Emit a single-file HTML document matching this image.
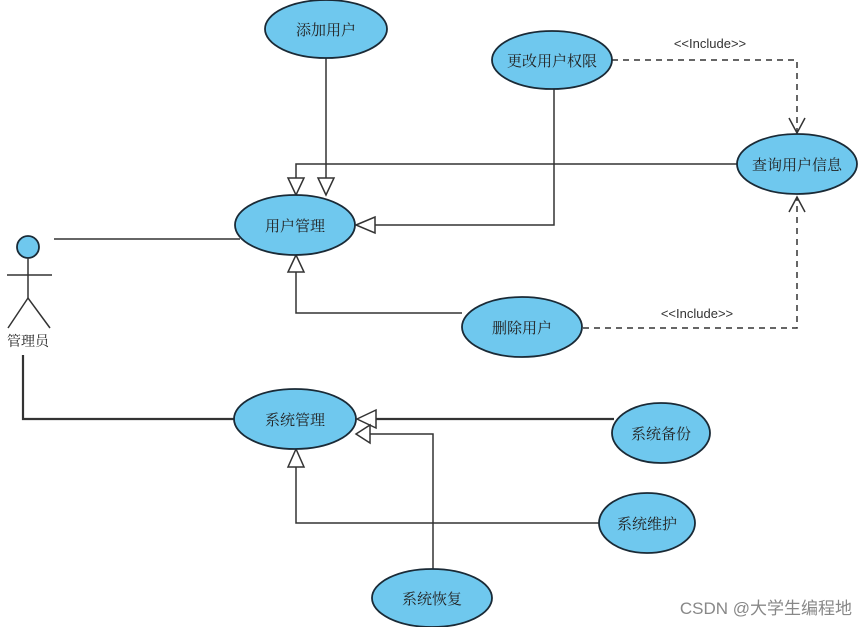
<!DOCTYPE html>
<html><head><meta charset="utf-8"><style>
html,body{margin:0;padding:0;background:#fff;}
svg{display:block;}
text{font-family:"Noto Serif CJK SC","Liberation Serif",serif;}
</style></head><body>
<svg width="865" height="627" viewBox="0 0 865 627" xmlns="http://www.w3.org/2000/svg">
<g fill="none" stroke="#333" stroke-width="1.5">
<polyline points="326,58 326,178"/>
<polyline points="296,178 296,164 737,164"/>
<polyline points="375,225 554,225 554,88"/>
<polyline points="462,313 296,313 296,272"/>
<line x1="54" y1="239" x2="240" y2="239"/>
<polyline points="612,60 797,60 797,133" stroke-dasharray="6,5"/>
<polyline points="583,328 797,328 797,197" stroke-dasharray="6,5"/>
<polyline points="789,118 797,133 805,118"/>
<polyline points="789,212 797,197 805,212"/>
<polyline points="23,355 23,419 236,419" stroke-width="2.2"/>
<line x1="376" y1="419" x2="614" y2="419" stroke-width="2.2"/>
<polyline points="370,434 433,434 433,569"/>
<polyline points="599,523 296,523 296,467"/>
</g>
<g fill="#fff" stroke="#333" stroke-width="1.5">
<polygon points="296,195 288,178 304,178"/>
<polygon points="326,195 318,178 334,178"/>
<polygon points="356,225 375,217 375,233"/>
<polygon points="296,255 288,272 304,272"/>
<polygon points="357,419 376,410 376,428"/>
<polygon points="356,434 370,425 370,443"/>
<polygon points="296,449 288,467 304,467"/>
</g>
<g fill="#6fc8ee" stroke="#1a2a36" stroke-width="1.8">
<ellipse cx="326" cy="29" rx="61" ry="29"/>
<ellipse cx="295" cy="225" rx="60" ry="30"/>
<ellipse cx="552" cy="60" rx="60" ry="29"/>
<ellipse cx="797" cy="164" rx="60" ry="30"/>
<ellipse cx="522" cy="327" rx="60" ry="30"/>
<ellipse cx="295" cy="419" rx="61" ry="30"/>
<ellipse cx="661" cy="433" rx="49" ry="30"/>
<ellipse cx="647" cy="523" rx="48" ry="30"/>
<ellipse cx="432" cy="598" rx="60" ry="29"/>
<circle cx="28" cy="247" r="11"/>
</g>
<g stroke="#333" stroke-width="1.5" fill="none">
<line x1="28" y1="258" x2="28" y2="298"/>
<line x1="7" y1="275" x2="52" y2="275"/>
<polyline points="8,328 28,298 50,328"/>
</g>
<g font-size="15" fill="#222" text-anchor="middle">
<text x="326" y="35">添加用户</text>
<text x="295" y="231">用户管理</text>
<text x="552" y="66">更改用户权限</text>
<text x="797" y="170">查询用户信息</text>
<text x="522" y="333">删除用户</text>
<text x="295" y="425">系统管理</text>
<text x="661" y="439">系统备份</text>
<text x="647" y="529">系统维护</text>
<text x="432" y="604">系统恢复</text>
<text x="28" y="346" font-size="14">管理员</text>
</g>
<g font-size="13" fill="#333" text-anchor="middle">
<text x="710" y="48" style="font-family:'Liberation Sans',sans-serif">&lt;&lt;Include&gt;&gt;</text>
<text x="697" y="318" style="font-family:'Liberation Sans',sans-serif">&lt;&lt;Include&gt;&gt;</text>
</g>
<text x="852" y="614" text-anchor="end" font-size="17" fill="#888" style="font-family:'Liberation Sans','Noto Sans CJK SC',sans-serif">CSDN @大学生编程地</text>
</svg>
</body></html>
